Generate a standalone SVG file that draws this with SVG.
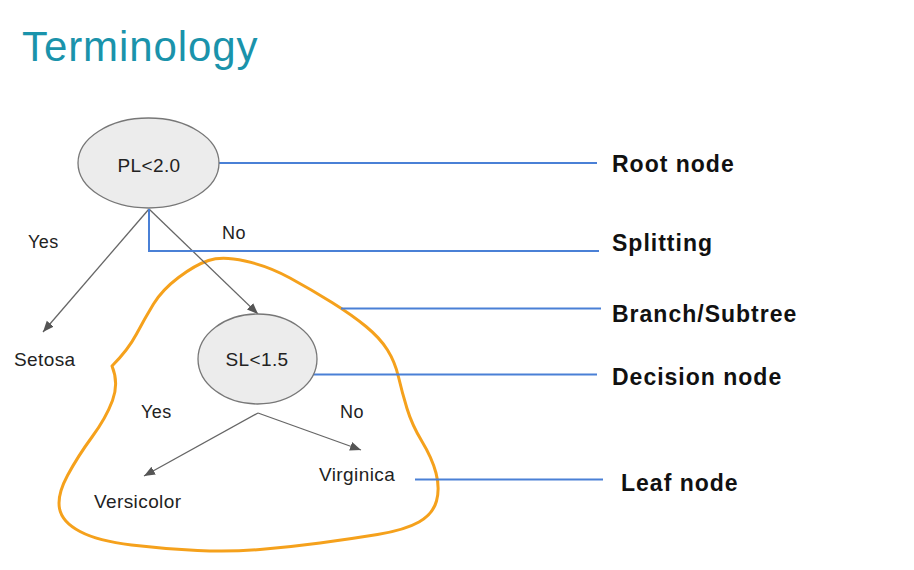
<svg xmlns="http://www.w3.org/2000/svg" width="914" height="570" viewBox="0 0 914 570">
<style>
.title{font-family:"Liberation Sans",Arial,sans-serif;font-size:42px;fill:#1a93ab;letter-spacing:0.9px}
.t{font-family:"Liberation Sans",Arial,sans-serif;font-size:19px;fill:#222;letter-spacing:0.4px}
.yn{font-family:"Liberation Sans",Arial,sans-serif;font-size:18px;fill:#222;letter-spacing:0.4px}
.lab{font-family:"Liberation Sans",Arial,sans-serif;font-size:23px;font-weight:bold;fill:#111;letter-spacing:1px}
.node{fill:#ececec;stroke:#777;stroke-width:1.3}
.arr{stroke:#666;stroke-width:1.3;fill:none;marker-end:url(#ah)}
.blue{stroke:#4a80d6;stroke-width:2;fill:none}
.blob{stroke:#f5a11c;stroke-width:3;fill:none;stroke-linejoin:round}
</style>
<defs>
<marker id="ah" markerUnits="userSpaceOnUse" markerWidth="12" markerHeight="10" refX="11" refY="4.5" orient="auto">
<path d="M0,0 L11,4.5 L0,9 z" fill="#555"/>
</marker>
</defs>
<rect width="914" height="570" fill="#fff"/>
<text class="title" x="22" y="61">Terminology</text>

<g id="branch-outline">
<path class="blob" d="M245,261 Q268,266 290,278 Q312,290 332,302.5 Q352,315 366,326.5 Q380,338 387.5,350 Q395,362 398.5,377 Q402,392 407,408.5 Q412,425 422,441.5 Q432,458 436,473 Q440,488 436.5,501 Q433,514 419,522 Q405,530 377.5,534.5 Q350,539 320,543 Q290,547 260,549.5 Q230,552 197.5,550.5 Q165,549 131.5,545 Q98,541 80,531.5 Q62,522 59.5,508.5 Q57,495 67.5,475.5 Q78,456 92,437 Q106,418 112.5,400.5 Q119,383 112,366 Q128,350 136.5,334 Q145,318 153.5,304 Q162,290 178.5,277.5 Q195,265 208.5,260.5 Q222,256 245,261 Z"/>
</g>

<g id="connectors">
<path class="arr" d="M149,209 L43,332"/>
<path class="arr" d="M149,209 L258,314"/>
<path class="arr" d="M258,413 L144,476"/>
<path class="arr" d="M258,413 L361,450"/>
<path class="blue" stroke-width="2.5" d="M219,163 H597"/>
<path class="blue" stroke-width="2.5" d="M149,209 V251 H599"/>
<path class="blue" d="M341,308.5 H601"/>
<path class="blue" d="M308,374.5 H597"/>
<path class="blue" d="M415,479.5 H603"/>
</g>

<g id="root">
<ellipse class="node" cx="148.5" cy="163" rx="70.5" ry="45"/>
<text class="t" x="149" y="172" text-anchor="middle">PL&lt;2.0</text>
</g>
<g id="decision">
<ellipse class="node" cx="257.5" cy="359" rx="59.5" ry="45"/>
<text class="t" x="257" y="366" text-anchor="middle">SL&lt;1.5</text>
</g>
<g id="setosa"><text class="t" x="14" y="366">Setosa</text></g>
<g id="versicolor"><text class="t" x="94" y="508">Versicolor</text></g>
<g id="virginica"><text class="t" x="319" y="481">Virginica</text></g>

<g id="edge-labels">
<text class="yn" x="28" y="248">Yes</text>
<text class="yn" x="222" y="239">No</text>
<text class="yn" x="141" y="418">Yes</text>
<text class="yn" x="340" y="418">No</text>
</g>

<g id="terms">
<text class="lab" x="612" y="172">Root node</text>
<text class="lab" x="612" y="251">Splitting</text>
<text class="lab" x="612" y="322">Branch/Subtree</text>
<text class="lab" x="612" y="385">Decision node</text>
<text class="lab" x="621" y="491">Leaf node</text>
</g>
</svg>
